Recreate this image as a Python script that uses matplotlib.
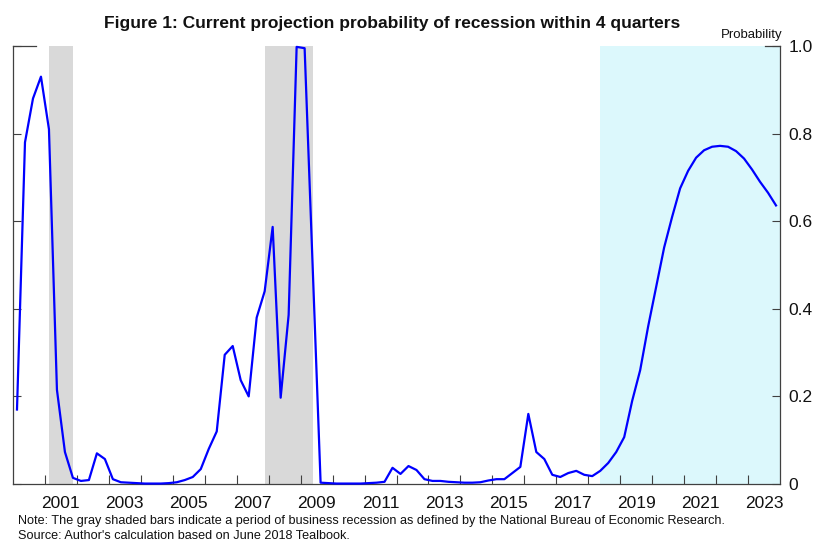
import matplotlib
matplotlib.use("Agg")
import matplotlib.pyplot as plt
from matplotlib.lines import Line2D
import matplotlib.transforms as mtransforms

# Quarterly probability of recession within 4 quarters, 2000Q1-2023Q4
first_year = 2000
prob = [
    0.17, 0.78, 0.88, 0.93,        # 2000
    0.81, 0.215, 0.073, 0.014,     # 2001
    0.007, 0.009, 0.07, 0.057,     # 2002
    0.011, 0.004, 0.003, 0.002,    # 2003
    0.001, 0.001, 0.001, 0.002,    # 2004
    0.004, 0.009, 0.016, 0.034,    # 2005
    0.08, 0.12, 0.295, 0.315,      # 2006
    0.237, 0.2, 0.38, 0.44,        # 2007
    0.587, 0.197, 0.386, 0.998,    # 2008
    0.995, 0.5, 0.003, 0.002,      # 2009
    0.001, 0.001, 0.001, 0.001,    # 2010
    0.002, 0.003, 0.005, 0.037,    # 2011
    0.023, 0.041, 0.032, 0.011,    # 2012
    0.007, 0.007, 0.005, 0.004,    # 2013
    0.003, 0.003, 0.004, 0.008,    # 2014
    0.011, 0.011, 0.025, 0.039,    # 2015
    0.16, 0.073, 0.057, 0.021,     # 2016
    0.016, 0.025, 0.03, 0.021,     # 2017
    0.018, 0.03, 0.048, 0.073,     # 2018
    0.107, 0.19, 0.26, 0.36,       # 2019
    0.45, 0.54, 0.61, 0.675,       # 2020
    0.715, 0.745, 0.762, 0.770,    # 2021
    0.772, 0.770, 0.760, 0.743,    # 2022
    0.718, 0.690, 0.665, 0.636,    # 2023
]
quarter_dates = [first_year + (i + 0.5) / 4 for i in range(len(prob))]

# NBER recession periods and the start of the projection period
recessions = [(2001.125, 2001.875), (2007.875, 2009.375)]
projection_start = 2018.375
x_min, x_max = 2000, 2024

year_ticks = list(range(2001, 2024))
year_labels = [str(y) for y in range(2001, 2024, 2)]
y_ticks = [0, 0.2, 0.4, 0.6, 0.8, 1.0]
y_tick_labels = ["0", "0.2", "0.4", "0.6", "0.8", "1.0"]

plt.rcParams["font.family"] = ["Liberation Sans", "DejaVu Sans"]

fig = plt.figure(figsize=(8.14, 5.41), dpi=100)
ax = fig.add_axes([13 / 814, 57 / 541, 767 / 814, 438 / 541])

for start, end in recessions:
    ax.axvspan(start, end, color="#d9d9d9", lw=0, zorder=0)
ax.axvspan(projection_start, x_max, color="#dcf8fc", lw=0, zorder=0)

ax.plot(quarter_dates, prob, color="#0000ff", lw=1.6, clip_on=False, zorder=3)

ax.set_xlim(x_min, x_max)
ax.set_ylim(0, 1.0)

# Year ticks on the bottom, labels centred within each odd year
ax.set_xticks(year_ticks)
ax.set_xticklabels([])
ax.set_xticks([int(l) + 0.5 for l in year_labels], minor=True)
ax.set_xticklabels(year_labels, minor=True)
ax.tick_params(axis="x", which="major", direction="in", length=6.5,
               width=0.8, color="#404040", top=False)
ax.tick_params(axis="x", which="minor", length=0, pad=9, labelsize=12.5,
               labelcolor="#111111")

ax.set_yticks(y_ticks)
ax.set_yticklabels(y_tick_labels)
ax.tick_params(axis="y", direction="in", left=True, right=True,
               labelleft=False, labelright=True, length=6, width=0.8,
               color="#404040", pad=6, labelsize=12.5, labelcolor="#111111")

for side in ("left", "right", "bottom"):
    ax.spines[side].set_color("#404040")
    ax.spines[side].set_linewidth(0.9)
ax.spines["top"].set_visible(False)

# Longer ticks at the top of both vertical axes
trans = mtransforms.blended_transform_factory(fig.transFigure, ax.transData)
ax.add_line(Line2D([13 / 814, 36 / 814], [1.0, 1.0], transform=trans,
                   color="#404040", lw=0.9, clip_on=False))
ax.add_line(Line2D([765 / 814, 780 / 814], [1.0, 1.0], transform=trans,
                   color="#404040", lw=0.9, clip_on=False))

fig.text(782 / 814, 1 - 35 / 541, "Probability", ha="right", va="center",
         fontsize=9.5, color="#111111")

fig.text(392 / 814, 1 - 28 / 541,
         "Figure 1: Current projection probability of recession within 4 quarters",
         ha="center", va="baseline", fontsize=12.5, fontweight="bold",
         color="#111111")

fig.text(18 / 814, 1 - 521 / 541,
         "Note: The gray shaded bars indicate a period of business recession "
         "as defined by the National Bureau of Economic Research.",
         ha="left", va="center", fontsize=9.1, color="#111111")
fig.text(18 / 814, 1 - 536 / 541,
         "Source: Author's calculation based on June 2018 Tealbook.",
         ha="left", va="center", fontsize=9.1, color="#111111")

fig.savefig("out.png", dpi=100)
